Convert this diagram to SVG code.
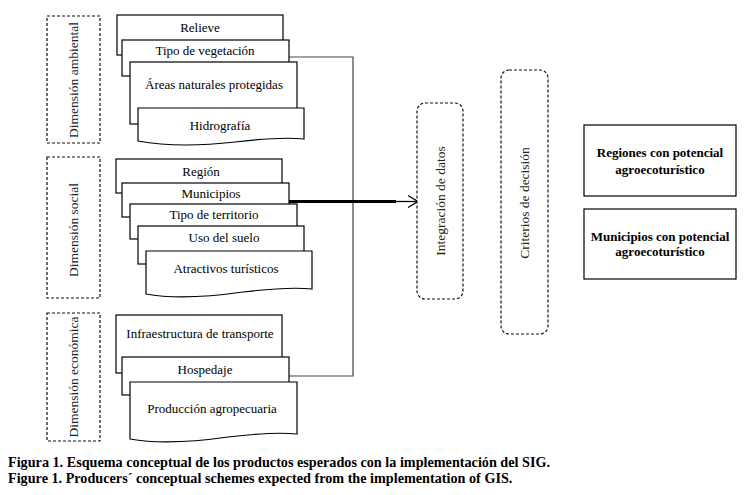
<svg xmlns="http://www.w3.org/2000/svg" width="752" height="495" viewBox="0 0 752 495">
<style>
.doc{fill:#fff;stroke:#000;stroke-width:1.2}
.dash{fill:#fff;stroke:#111;stroke-width:1.2;stroke-dasharray:3 2}
.box{fill:#fff;stroke:#000;stroke-width:1.2}
.t{font-family:"Liberation Serif","Times New Roman",serif;font-size:13px;fill:#000;text-anchor:middle}
.v{font-family:"Liberation Serif","Times New Roman",serif;font-size:13.5px;fill:#222;text-anchor:middle}
.b{font-family:"Liberation Serif","Times New Roman",serif;font-size:13px;font-weight:bold;fill:#000;text-anchor:middle}
.cap{font-family:"Liberation Serif","Times New Roman",serif;font-size:14.2px;font-weight:bold;fill:#000}
.conn{fill:none;stroke:#444;stroke-width:1.2}
</style>
<rect width="752" height="495" fill="#fff"/>

<g id="dim-ambiental">
<rect class="dash" x="47" y="16" width="53" height="127"/>
<text class="v" transform="translate(78,80) rotate(-90)">Dimensión ambiental</text>
</g>
<g id="dim-social">
<rect class="dash" x="47" y="157" width="53" height="141"/>
<text class="v" transform="translate(78,230) rotate(-90)">Dimensión social</text>
</g>
<g id="dim-economica">
<rect class="dash" x="47" y="313" width="53" height="128"/>
<text class="v" transform="translate(78,377) rotate(-90)">Dimensión económica</text>
</g>

<g id="connectors">
<polyline class="conn" points="289,57 353,57 353,376 289,376"/>
<line x1="289" y1="201.5" x2="396" y2="201.5" stroke="#000" stroke-width="3"/>
<line x1="395" y1="201.5" x2="417" y2="201.5" stroke="#000" stroke-width="1.3"/>
<polyline points="408,195.5 418,201.5 408,207.5" fill="none" stroke="#000" stroke-width="1.3"/>
</g>

<g id="relieve">
<rect class="doc" x="117" y="15" width="166" height="40"/>
<text class="t" x="200" y="32">Relieve</text>
</g>
<g id="tipo-vegetacion">
<rect class="doc" x="122" y="40" width="167" height="36"/>
<text class="t" x="205" y="55">Tipo de vegetación</text>
</g>
<g id="areas-naturales">
<rect class="doc" x="130" y="62" width="167" height="62"/>
<text class="t" x="214" y="89">Áreas naturales protegidas</text>
</g>
<g id="hidrografia">
<path class="doc" d="M138,108 H304 V139 C285,137 260,139 235,142 C200,146 165,146 138,141 Z"/>
<text class="t" x="220" y="130">Hidrografía</text>
</g>

<g id="region">
<rect class="doc" x="116" y="159" width="166" height="34"/>
<text class="t" x="201" y="176">Región</text>
</g>
<g id="municipios">
<rect class="doc" x="122" y="183" width="167" height="34"/>
<text class="t" x="211" y="198">Municipios</text>
</g>
<g id="tipo-territorio">
<rect class="doc" x="130" y="204" width="167" height="35"/>
<text class="t" x="214" y="219">Tipo de territorio</text>
</g>
<g id="uso-suelo">
<rect class="doc" x="138" y="226" width="166" height="38"/>
<text class="t" x="224" y="242">Uso del suelo</text>
</g>
<g id="atractivos">
<path class="doc" d="M146,251 H312 V289 C293,287 268,289 243,292 C208,297 173,299 146,294 Z"/>
<text class="t" x="226" y="273">Atractivos turísticos</text>
</g>

<g id="infraestructura">
<rect class="doc" x="116" y="315" width="166" height="58"/>
<text class="t" x="200" y="338">Infraestructura de transporte</text>
</g>
<g id="hospedaje">
<rect class="doc" x="122" y="357" width="167" height="38"/>
<text class="t" x="205" y="374">Hospedaje</text>
</g>
<g id="produccion">
<path class="doc" d="M130,382 H297 V434 C278,432 253,434 228,437 C193,442 158,444 130,439 Z"/>
<text class="t" x="212" y="413">Producción agropecuaria</text>
</g>

<g id="integracion">
<rect class="dash" x="417" y="103" width="46" height="196" rx="8"/>
<text class="v" transform="translate(445,201) rotate(-90)">Integración de datos</text>
</g>
<g id="criterios">
<rect class="dash" x="501" y="70" width="47" height="264" rx="8"/>
<text class="v" transform="translate(529,203) rotate(-90)">Criterios de decisión</text>
</g>

<g id="regiones-potencial">
<rect class="box" x="584" y="125" width="152" height="71"/>
<text class="b" x="660" y="157">Regiones con potencial</text>
<text class="b" x="660" y="174">agroecoturístico</text>
</g>
<g id="municipios-potencial">
<rect class="box" x="584" y="209" width="152" height="70"/>
<text class="b" x="660" y="241">Municipios con potencial</text>
<text class="b" x="660" y="256">agroecoturístico</text>
</g>

<text class="cap" x="8" y="467">Figura 1. Esquema conceptual de los productos esperados con la implementación del SIG.</text>
<text class="cap" x="8" y="483">Figure 1. Producers´ conceptual schemes expected from the implementation of GIS.</text>
</svg>
